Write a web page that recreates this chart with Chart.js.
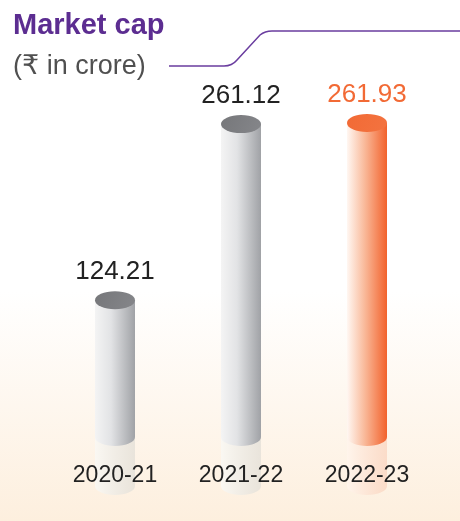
<!DOCTYPE html>
<html>
<head>
<meta charset="utf-8">
<script src="https://cdn.jsdelivr.net/npm/chart.js@4/dist/chart.umd.min.js"></script>
<style>
  html, body { margin: 0; padding: 0; background: #fff; }
  #wrap { width: 460px; height: 521px; }
</style>
</head>
<body>
<div id="wrap"><canvas id="c" width="460" height="521"></canvas></div>
<script>
const titleText = 'Market cap';
const subtitleText = '(₹ in crore)';
const categories = ['2020-21', '2021-22', '2022-23'];
const marketCap = [124.21, 261.12, 261.93];
const valueLabels = ['124.21', '261.12', '261.93'];
const highlight = [false, false, true];

const FONT = '"Liberation Sans", "Helvetica Neue", Arial, "DejaVu Sans", sans-serif';

const decorPlugin = {
  id: 'decor',
  beforeDraw(chart) {
    const ctx = chart.ctx, W = chart.width, H = chart.height;
    ctx.save();
    const g = ctx.createLinearGradient(0, 0, 0, H);
    g.addColorStop(0, '#ffffff');
    g.addColorStop(0.56, '#ffffff');
    g.addColorStop(1, '#fdefde');
    ctx.fillStyle = g;
    ctx.fillRect(0, 0, W, H);

    // title
    ctx.textAlign = 'left';
    ctx.textBaseline = 'alphabetic';
    ctx.fillStyle = '#5c2d91';
    ctx.font = 'bold 29px ' + FONT;
    ctx.fillText(titleText, 13, 34);
    ctx.fillStyle = '#505050';
    ctx.font = '27px ' + FONT;
    ctx.fillText(subtitleText, 13, 74);

    // connector line
    ctx.strokeStyle = '#6a3d9f';
    ctx.lineWidth = 1.5;
    ctx.beginPath();
    ctx.moveTo(169, 66);
    ctx.lineTo(224, 66);
    ctx.quadraticCurveTo(232, 66, 237, 60);
    ctx.lineTo(260, 35);
    ctx.quadraticCurveTo(265, 31, 272, 31);
    ctx.lineTo(W, 31);
    ctx.stroke();
    ctx.restore();
  },
  afterDatasetsDraw(chart) {
    const ctx = chart.ctx;
    const meta = chart.getDatasetMeta(0);
    meta.data.forEach((bar, i) => {
      const cx = bar.x, top = bar.y, base = bar.base, w = bar.width;
      const rx = w / 2, ry = 9;
      const xl = cx - rx, xr = cx + rx;
      const yb = base - 23;         // visual bottom of cylinder
      const reflEnd = yb + 58;      // reflection length
      const hl = highlight[i];
      ctx.save();

      // reflection
      const rg = ctx.createLinearGradient(xl, 0, xr, 0);
      if (hl) {
        rg.addColorStop(0, 'rgba(255,245,236,0.9)');
        rg.addColorStop(1, 'rgba(250,210,188,0.7)');
      } else {
        rg.addColorStop(0, 'rgba(250,248,243,0.95)');
        rg.addColorStop(1, 'rgba(228,224,216,0.8)');
      }
      ctx.beginPath();
      ctx.moveTo(xl, yb);
      ctx.lineTo(xl, reflEnd - ry);
      ctx.ellipse(cx, reflEnd - ry, rx, ry, 0, Math.PI, 0, true);
      ctx.lineTo(xr, yb);
      ctx.closePath();
      ctx.fillStyle = rg;
      ctx.fill();

      // body
      const bg = ctx.createLinearGradient(xl, 0, xr, 0);
      if (hl) {
        bg.addColorStop(0, '#fff7f2');
        bg.addColorStop(0.45, '#f9b898');
        bg.addColorStop(1, '#f2622c');
      } else {
        bg.addColorStop(0, '#f4f4f4');
        bg.addColorStop(0.4, '#e2e3e5');
        bg.addColorStop(1, '#a0a2a6');
      }
      ctx.beginPath();
      ctx.moveTo(xl, top);
      ctx.lineTo(xl, yb);
      ctx.ellipse(cx, yb, rx, ry, 0, Math.PI, 0, true);
      ctx.lineTo(xr, top);
      ctx.closePath();
      ctx.fillStyle = bg;
      ctx.fill();

      // top cap
      const tg = ctx.createLinearGradient(xl, top - ry, xr, top + ry);
      if (hl) {
        tg.addColorStop(0, '#f26a35');
        tg.addColorStop(1, '#f37340');
      } else {
        tg.addColorStop(0, '#76777a');
        tg.addColorStop(1, '#85868a');
      }
      ctx.beginPath();
      ctx.ellipse(cx, top, rx, ry, 0, 0, Math.PI * 2);
      ctx.fillStyle = tg;
      ctx.fill();

      // value label
      ctx.textAlign = 'center';
      ctx.textBaseline = 'middle';
      ctx.font = '26px ' + FONT;
      ctx.fillStyle = hl ? '#f26a35' : '#222222';
      ctx.fillText(valueLabels[i], cx, top - 28);

      // category label
      ctx.font = '23px ' + FONT;
      ctx.fillStyle = '#222222';
      ctx.fillText(categories[i], cx, base + 16);
      ctx.restore();
    });
  }
};

new Chart(document.getElementById('c'), {
  type: 'bar',
  data: {
    labels: categories,
    datasets: [{
      data: marketCap,
      backgroundColor: 'rgba(0,0,0,0)',
      borderWidth: 0,
      barThickness: 40
    }]
  },
  options: {
    responsive: false,
    animation: false,
    devicePixelRatio: 1,
    layout: { padding: { top: 74, bottom: 61, left: 52, right: 30 } },
    plugins: { legend: { display: false }, tooltip: { enabled: false } },
    scales: {
      x: { display: false, offset: true },
      y: { display: false, min: 0, max: 300 }
    }
  },
  plugins: [decorPlugin]
});
</script>
</body>
</html>
